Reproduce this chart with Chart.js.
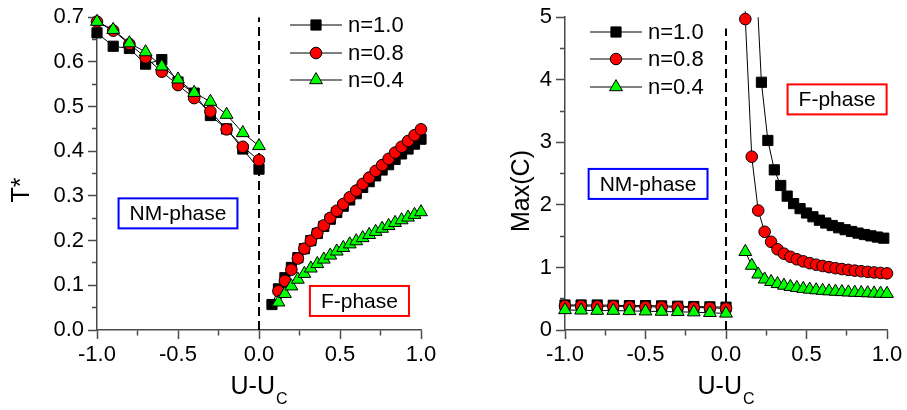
<!DOCTYPE html>
<html><head><meta charset="utf-8">
<script src="https://cdn.jsdelivr.net/npm/chart.js@4.4.1/dist/chart.umd.min.js"></script>
<style>
html,body{margin:0;padding:0;background:#fff;}
#wrap{position:relative;width:907px;height:410px;background:#fff;}
canvas{position:absolute;top:0;}
#c1{left:0;} #c2{left:453px;}
</style></head><body>
<div id="wrap"><canvas id="c1" width="453" height="410"></canvas><canvas id="c2" width="454" height="410"></canvas></div>
<script>
// ---------------- DATA ----------------
const seriesLabels = ['n=1.0', 'n=0.8', 'n=0.4'];

// shared U-Uc grids
const uNM = [-1.0, -0.9, -0.8, -0.7, -0.6, -0.5, -0.4, -0.3, -0.2, -0.1, 0.0];
const uF08 = [0.08, 0.12, 0.16, 0.20, 0.24, 0.28, 0.32, 0.36, 0.40, 0.44, 0.48, 0.52, 0.56, 0.60, 0.64, 0.68, 0.72, 0.76, 0.80, 0.84, 0.88, 0.92, 0.96, 1.00];
const uF12 = [0.12, 0.16, 0.20, 0.24, 0.28, 0.32, 0.36, 0.40, 0.44, 0.48, 0.52, 0.56, 0.60, 0.64, 0.68, 0.72, 0.76, 0.80, 0.84, 0.88, 0.92, 0.96, 1.00];
const uF18 = [0.18, 0.22, 0.26, 0.30, 0.34, 0.38, 0.42, 0.46, 0.50, 0.54, 0.58, 0.62, 0.66, 0.70, 0.74, 0.78, 0.82, 0.86, 0.90, 0.94, 0.98];

// Left panel: T*
const tNM_n10 = [0.665, 0.635, 0.630, 0.595, 0.605, 0.555, 0.530, 0.480, 0.450, 0.405, 0.360];
const tNM_n08 = [0.690, 0.670, 0.640, 0.610, 0.578, 0.548, 0.519, 0.489, 0.449, 0.410, 0.380];
const tNM_n04 = [0.690, 0.672, 0.642, 0.622, 0.590, 0.561, 0.531, 0.511, 0.482, 0.441, 0.412];
const tF_n10 = [0.057, 0.092, 0.117, 0.140, 0.162, 0.182, 0.200, 0.216, 0.232, 0.248, 0.263, 0.277, 0.291, 0.305, 0.319, 0.332, 0.345, 0.358, 0.370, 0.382, 0.394, 0.405, 0.416, 0.427];
const tF_n08 = [0.087, 0.110, 0.135, 0.160, 0.182, 0.200, 0.217, 0.234, 0.251, 0.267, 0.282, 0.297, 0.312, 0.327, 0.341, 0.356, 0.369, 0.383, 0.397, 0.410, 0.423, 0.436, 0.449];
const tF_n04 = [0.062, 0.081, 0.098, 0.113, 0.126, 0.138, 0.148, 0.158, 0.167, 0.176, 0.184, 0.192, 0.199, 0.206, 0.213, 0.220, 0.227, 0.233, 0.240, 0.246, 0.252, 0.258, 0.264];

// Right panel: Max(C)
const cNM_n10 = [0.400, 0.400, 0.400, 0.395, 0.390, 0.390, 0.385, 0.380, 0.375, 0.370, 0.365];
const cNM_n08 = [0.385, 0.385, 0.380, 0.380, 0.375, 0.370, 0.370, 0.365, 0.360, 0.355, 0.345];
const cNM_n04 = [0.320, 0.315, 0.310, 0.310, 0.305, 0.300, 0.295, 0.290, 0.285, 0.275, 0.265];
const cF_n10 = [6.00, 3.96, 3.03, 2.56, 2.31, 2.14, 2.02, 1.94, 1.87, 1.81, 1.755, 1.71, 1.67, 1.634, 1.603, 1.575, 1.549, 1.526, 1.505, 1.486, 1.468];
const cF_n08 = [12.0, 4.97, 2.77, 1.91, 1.57, 1.41, 1.29, 1.22, 1.17, 1.13, 1.097, 1.068, 1.044, 1.023, 1.005, 0.988, 0.974, 0.961, 0.949, 0.939, 0.929, 0.920, 0.912, 0.905];
const cF_n04 = [1.25, 1.03, 0.89, 0.81, 0.77, 0.737, 0.711, 0.691, 0.674, 0.660, 0.648, 0.638, 0.629, 0.621, 0.615, 0.609, 0.603, 0.598, 0.594, 0.590, 0.586, 0.583, 0.580];

// axis ticks
const xMajorTicks = [-1.0, -0.5, 0.0, 0.5, 1.0];
const xMajorLabels = ['-1.0', '-0.5', '0.0', '0.5', '1.0'];
const xMinorTicks = [-0.75, -0.25, 0.25, 0.75];
const tMajorTicks = [0.0, 0.1, 0.2, 0.3, 0.4, 0.5, 0.6, 0.7];
const tMajorLabels = ['0.0', '0.1', '0.2', '0.3', '0.4', '0.5', '0.6', '0.7'];
const tMinorTicks = [0.05, 0.15, 0.25, 0.35, 0.45, 0.55, 0.65];
const cMajorTicks = [0, 1, 2, 3, 4, 5];
const cMajorLabels = ['0', '1', '2', '3', '4', '5'];
const cMinorTicks = [0.5, 1.5, 2.5, 3.5, 4.5];

// phase boundary (dashed) and boxes
const boundaryU = 0.0;
const leftBoundaryTop = 0.7;
const rightBoundaryTop = 4.82;
const leftBoxes = [
  {text: 'NM-phase', x: -0.5, y: 0.261, color: '#0000ff'},
  {text: 'F-phase', x: 0.62, y: 0.065, color: '#ff0000'}
];
const rightBoxes = [
  {text: 'NM-phase', x: -0.484, y: 2.335, color: '#0000ff'},
  {text: 'F-phase', x: 0.69, y: 3.686, color: '#ff0000'}
];

// ---------------- HELPERS ----------------
const FONT = '"Liberation Sans", Arial, Helvetica, sans-serif';
const styles = [
  {pointStyle: 'rect', radius: 7.2, bg: '#000000', order: 2},
  {pointStyle: 'circle', radius: 5.8, bg: '#ff0000', order: 1},
  {pointStyle: 'triangle', radius: 7.4, bg: '#00ff00', order: 0}
];
function pts(xs, ys) { return xs.map((x, i) => ({x: x, y: ys[i]})); }
function branches(x1, y1, x2, y2) { return pts(x1, y1).concat([{x: 0.04, y: null}], pts(x2, y2)); }
function makeDs(i, data, clip) {
  const s = styles[i];
  return {
    label: seriesLabels[i], data: data, showLine: true, spanGaps: false,
    borderColor: '#000', borderWidth: 1, pointStyle: s.pointStyle, pointRadius: s.radius,
    pointHoverRadius: s.radius, pointBackgroundColor: s.bg, pointBorderColor: '#000',
    pointBorderWidth: 1, order: s.order, clip: clip
  };
}
function near(v, arr) { return arr.some(a => Math.abs(a - v) < 1e-6); }
function tickSetter(major, minor) {
  return function (scale) {
    scale.ticks = major.concat(minor).sort((a, b) => a - b).map(v => ({value: v}));
  };
}
function labelFn(major, labels) {
  return function (v) {
    for (let i = 0; i < major.length; i++) if (Math.abs(major[i] - v) < 1e-6) return labels[i];
    return '';
  };
}
function drawMarker(ctx, i, x, y) {
  const s = styles[i];
  ctx.save();
  ctx.fillStyle = s.bg; ctx.strokeStyle = '#000'; ctx.lineWidth = 1;
  if (Chart.helpers && Chart.helpers.drawPoint) {
    Chart.helpers.drawPoint(ctx, {pointStyle: s.pointStyle, radius: s.radius, rotation: 0, borderWidth: 1}, x, y);
  }
  ctx.restore();
}

function axisScales(yMajor, yMinor, yLabels, yMax, yWidth) {
  const axisColor = '#4a4a4a';
  return {
    x: {
      type: 'linear', min: -1, max: 1,
      afterBuildTicks: tickSetter(xMajorTicks, xMinorTicks),
      afterFit: s => { s.height = 80; },
      border: {display: true, color: axisColor, width: 1.5},
      grid: {
        drawOnChartArea: false, drawTicks: true, tickLength: 9, tickColor: axisColor, tickWidth: 1.5,
        tickBorderDash: c => (c.tick && near(c.tick.value, xMinorTicks)) ? [5, 100] : []
      },
      ticks: {callback: labelFn(xMajorTicks, xMajorLabels), autoSkip: false, maxRotation: 0, minRotation: 0,
        color: '#000', padding: 3, font: {family: FONT, size: 22}}
    },
    y: {
      type: 'linear', min: 0, max: yMax,
      afterBuildTicks: tickSetter(yMajor, yMinor),
      afterFit: s => { s.width = yWidth; },
      border: {display: true, color: axisColor, width: 1.5},
      grid: {
        drawOnChartArea: false, drawTicks: true, tickLength: 9, tickColor: axisColor, tickWidth: 1.5,
        tickBorderDash: c => (c.tick && near(c.tick.value, yMinor)) ? [0, 4, 5, 100] : []
      },
      ticks: {callback: labelFn(yMajor, yLabels), autoSkip: false, color: '#000', padding: 4,
        font: {family: FONT, size: 22}}
    }
  };
}

function decorPlugin(cfg) {
  return {
    id: 'decor' + cfg.id,
    afterDatasetsDraw(chart) {
      const ctx = chart.ctx, xs = chart.scales.x, ys = chart.scales.y;
      ctx.save();
      ctx.font = '21px ' + FONT;
      ctx.textAlign = 'center'; ctx.textBaseline = 'middle';
      cfg.boxes.forEach(b => {
        const cx = xs.getPixelForValue(b.x), cy = ys.getPixelForValue(b.y);
        const w = ctx.measureText(b.text).width + 22, h = 30;
        ctx.fillStyle = '#fff';
        ctx.fillRect(cx - w / 2, cy - h / 2, w, h);
        ctx.lineWidth = 2; ctx.strokeStyle = b.color;
        ctx.strokeRect(cx - w / 2, cy - h / 2, w, h);
        ctx.fillStyle = '#000';
        ctx.fillText(b.text, cx, cy + 1);
      });
      ctx.restore();
    },
    afterDraw(chart) {
      const ctx = chart.ctx, ca = chart.chartArea;
      ctx.save();
      ctx.font = '22px ' + FONT;
      ctx.textAlign = 'left'; ctx.textBaseline = 'middle';
      cfg.legend.ys.forEach((y, i) => {
        ctx.strokeStyle = '#000'; ctx.lineWidth = 1;
        ctx.beginPath(); ctx.moveTo(cfg.legend.x0, y); ctx.lineTo(cfg.legend.x1, y); ctx.stroke();
        drawMarker(ctx, i, cfg.legend.mx, y);
        ctx.fillStyle = '#000';
        ctx.fillText(seriesLabels[i], cfg.legend.tx, y + 1);
      });
      ctx.restore();
      ctx.save();
      ctx.fillStyle = '#000';
      ctx.font = '25px ' + FONT;
      ctx.translate(cfg.yTitle.x, cfg.yTitle.y);
      ctx.rotate(-Math.PI / 2);
      ctx.textAlign = 'center'; ctx.textBaseline = 'middle';
      ctx.fillText(cfg.yTitle.text, 0, 0);
      ctx.restore();
      ctx.save();
      ctx.fillStyle = '#000';
      ctx.textBaseline = 'alphabetic'; ctx.textAlign = 'left';
      ctx.font = '25px ' + FONT;
      const mainW = ctx.measureText('U-U').width;
      ctx.font = '16px ' + FONT;
      const subW = ctx.measureText('C').width;
      const cx = (ca.left + ca.right) / 2;
      const x0 = cx - (mainW + subW + 1) / 2;
      ctx.font = '25px ' + FONT;
      ctx.fillText('U-U', x0, 394);
      ctx.font = '16px ' + FONT;
      ctx.fillText('C', x0 + mainW + 1, 404);
      ctx.restore();
    }
  };
}

Chart.defaults.font.family = FONT;

const clipAll = {left: 9, right: 9, top: 9, bottom: 9};
new Chart(document.getElementById('c1'), {
  type: 'scatter',
  data: {datasets: [
    makeDs(0, branches(uNM, tNM_n10, uF08, tF_n10), clipAll),
    makeDs(1, branches(uNM, tNM_n08, uF12, tF_n08), clipAll),
    makeDs(2, branches(uNM, tNM_n04, uF12, tF_n04), clipAll),
    {label: 'boundary', data: [{x: boundaryU, y: 0}, {x: boundaryU, y: leftBoundaryTop}], showLine: true,
      borderColor: '#000', borderWidth: 2, borderDash: [9, 5], pointRadius: 0, order: 3}
  ]},
  options: {
    responsive: false, animation: false, events: [],
    layout: {padding: {left: 0, top: 13, right: 32, bottom: 0}},
    plugins: {legend: {display: false}, tooltip: {enabled: false}},
    scales: axisScales(tMajorTicks, tMinorTicks, tMajorLabels, 0.7, 97)
  },
  plugins: [decorPlugin({id: 'L', boxes: leftBoxes,
    legend: {x0: 290, x1: 342, mx: 316, tx: 348, ys: [25, 53, 80]},
    yTitle: {text: 'T*', x: 22, y: 190}})]
});

new Chart(document.getElementById('c2'), {
  type: 'scatter',
  data: {datasets: [
    makeDs(0, branches(uNM, cNM_n10, uF18, cF_n10), {left: 9, right: 9, top: 0, bottom: 9}),
    makeDs(1, branches(uNM, cNM_n08, uF08, cF_n08), {left: 9, right: 9, top: 6, bottom: 9}),
    makeDs(2, branches(uNM, cNM_n04, uF12, cF_n04), clipAll),
    {label: 'boundary', data: [{x: boundaryU, y: 0}, {x: boundaryU, y: rightBoundaryTop}], showLine: true,
      borderColor: '#000', borderWidth: 2, borderDash: [9, 5], pointRadius: 0, order: 3}
  ]},
  options: {
    responsive: false, animation: false, events: [],
    layout: {padding: {left: 0, top: 13, right: 20, bottom: 0}},
    plugins: {legend: {display: false}, tooltip: {enabled: false}},
    scales: axisScales(cMajorTicks, cMinorTicks, cMajorLabels, 5, 112)
  },
  plugins: [decorPlugin({id: 'R', boxes: rightBoxes,
    legend: {x0: 137, x1: 189, mx: 163, tx: 195, ys: [32, 59, 87]},
    yTitle: {text: 'Max(C)', x: 69, y: 191}})]
});
</script>
</body></html>
